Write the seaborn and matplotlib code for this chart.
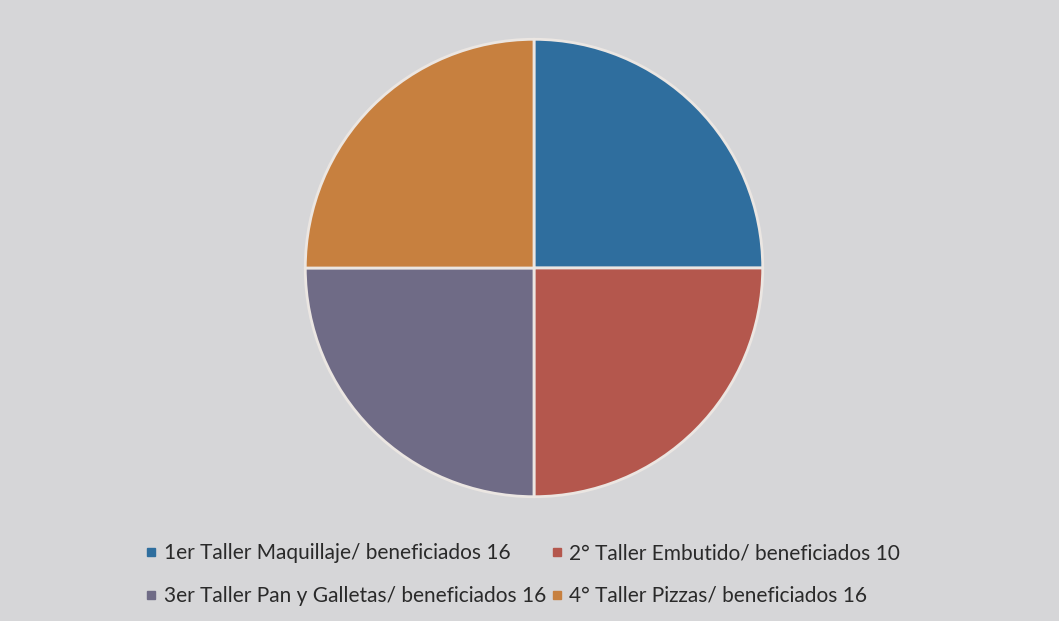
import numpy as np
import matplotlib.pyplot as plt
import seaborn as sns
from matplotlib.lines import Line2D

# datos del grafico
talleres = ['1er Taller Maquillaje', '2° Taller Embutido',
            '3er Taller Pan y Galletas', '4° Taller Pizzas']
beneficiados = [16, 10, 16, 16]
# las rebanadas en la imagen son cuartos iguales
porciones = [25, 25, 25, 25]
colores = ['#2f6e9e', '#b4574d', '#6f6b86', '#c7803f']

sns.set_theme(style='white')
plt.rcParams['font.family'] = ['Lato', 'DejaVu Sans']

fondo = '#d6d6d8'
fig = plt.figure(figsize=(10.59, 6.21), dpi=100, facecolor=fondo)
ax = fig.add_axes([303 / 1059, 122 / 621, 462 / 1059, 462 / 621])
ax.set_facecolor(fondo)

ax.pie(porciones, colors=colores, startangle=90, counterclock=False,
       radius=1, wedgeprops=dict(edgecolor='#ebe6e2', linewidth=2))
ax.set_xlim(-1.01, 1.01)
ax.set_ylim(-1.01, 1.01)
ax.set_aspect('equal')
ax.axis('off')

etiquetas = [f'{t}/ beneficiados {b}' for t, b in zip(talleres, beneficiados)]
handles = [Line2D([], [], marker='s', linestyle='', markersize=6,
                  markerfacecolor=c, markeredgecolor=c) for c in colores]
orden = [0, 2, 1, 3]
fig.legend([handles[i] for i in orden], [etiquetas[i] for i in orden],
           ncol=2, loc='lower center', bbox_to_anchor=(0.494, -0.006),
           frameon=False, fontsize=15, handlelength=0.5, handletextpad=0.35,
           columnspacing=0.25, labelspacing=1.1, labelcolor='#2a2a2a')

plt.savefig('out.png', dpi=100, facecolor=fondo)
